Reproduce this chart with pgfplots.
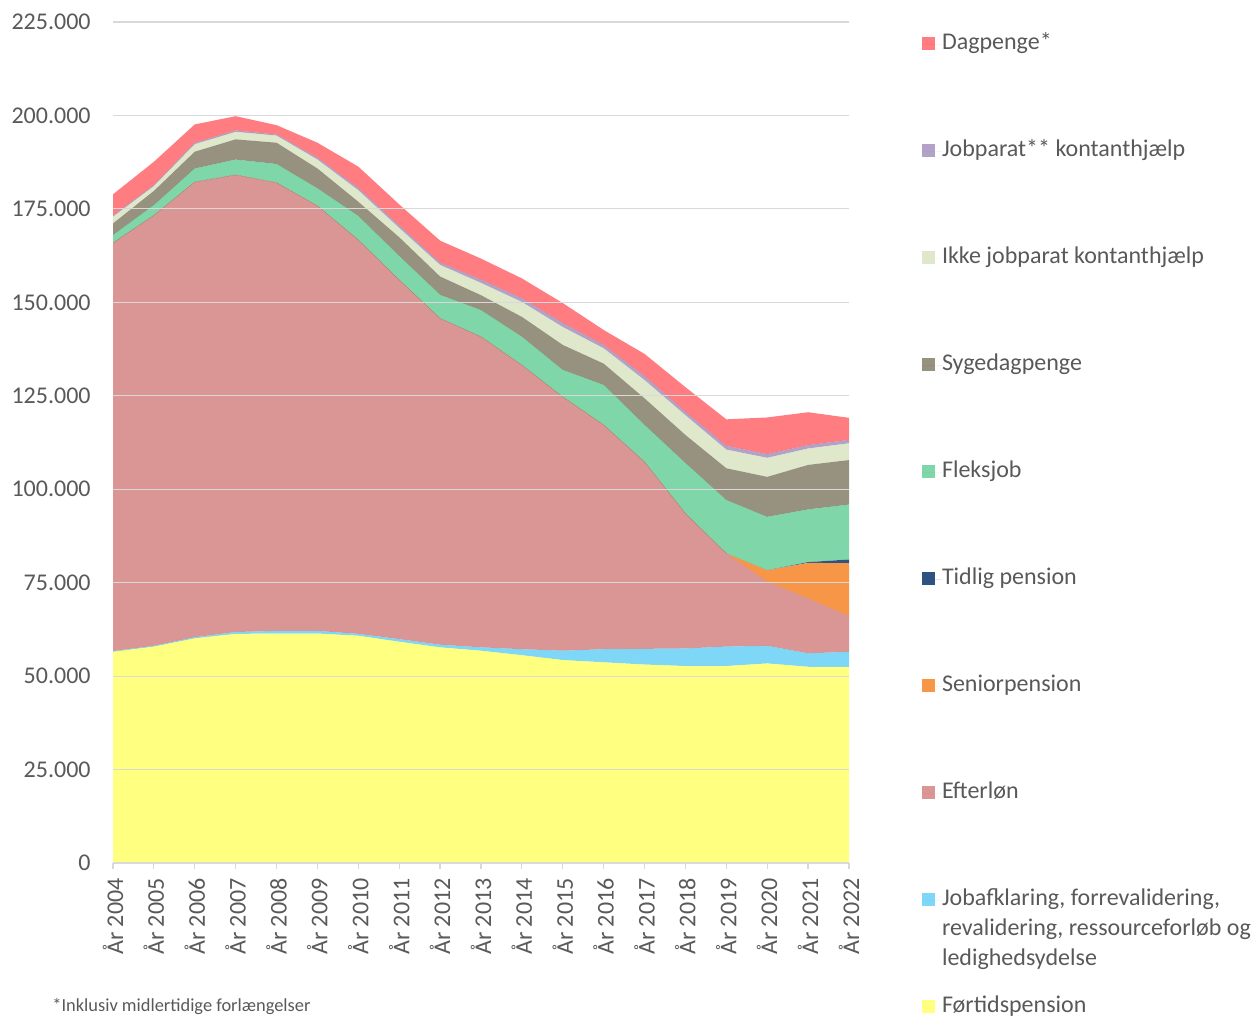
\documentclass[border=0pt]{standalone}
\usepackage{pgfplots}
\pgfplotsset{compat=1.18}
\usepackage{pgfplotstable}
\usepackage{fontspec}
\setmainfont{Carlito}
\definecolor{txt}{HTML}{595959}
\definecolor{gridc}{HTML}{D9D9D9}
\definecolor{cDag}{HTML}{FF252B}
\definecolor{cJob}{HTML}{8064A2}
\definecolor{cIkke}{HTML}{CAD9A9}
\definecolor{cSyg}{HTML}{52482A}
\definecolor{cFleks}{HTML}{2ABB6E}
\definecolor{cTidl}{HTML}{2F5283}
\definecolor{cSen}{HTML}{F79646}
\definecolor{cEft}{HTML}{C0504D}
\definecolor{cJaf}{HTML}{2ABCF2}
\definecolor{cFoer}{HTML}{FFFF2B}

\pgfplotstableread{
year F J E S T Fl Sy I P D
2004 56500 200 109200 0 0 2100 3100 1800 300 5700
2005 57900 200 115200 0 0 2700 3800 1300 300 6200
2006 60100 300 121800 0 0 3600 4500 2000 400 4900
2007 61300 500 122300 0 0 4100 5400 2000 400 3800
2008 61400 700 119900 0 0 5000 5700 1900 300 2500
2009 61400 700 113700 0 0 4700 5300 2400 500 4000
2010 60800 500 105400 0 0 6400 3800 3100 600 5700
2011 59200 700 96100 0 0 6400 5000 2500 700 5600
2012 57700 700 87300 0 0 6300 4900 3100 600 5900
2013 56800 900 83100 0 0 7100 4000 3300 900 5600
2014 55600 1600 76000 0 0 7600 5300 4000 1000 5300
2015 54300 2500 67900 0 0 7200 6700 4800 1100 5300
2016 53700 3500 60000 0 0 10700 5700 4100 900 4000
2017 53100 4200 50000 0 0 9900 7100 4900 1100 5900
2018 52700 4700 36100 0 0 13500 7500 5300 900 6600
2019 52700 5200 24900 0 0 14300 8500 5000 1000 7100
2020 53400 4700 17200 3000 0 14300 10700 5100 1000 9800
2021 52500 3600 14700 9500 200 14100 11900 4400 900 8800
2022 52500 4000 9600 14100 1000 14700 11900 4500 900 5900
}\data

\begin{document}
\begin{tikzpicture}
\path[use as bounding box] (0,0) rectangle (628pt,509pt);
\begin{axis}[
  at={(56.5pt,77.5pt)}, anchor=south west,
  scale only axis, width=368pt, height=420.5pt,
  xmin=2004, xmax=2022, ymin=0, ymax=225000,
  enlargelimits=false,
  stack plots=y, area style,
  axis x line*=bottom, axis y line*=left,
  axis line style={-},
  x axis line style={draw=gridc, line width=0.6pt},
  y axis line style={draw=none},
  xtick={2004,...,2022},
  xticklabels={År 2004,År 2005,År 2006,År 2007,År 2008,År 2009,År 2010,År 2011,År 2012,År 2013,År 2014,År 2015,År 2016,År 2017,År 2018,År 2019,År 2020,År 2021,År 2022},
  ytick={0,25000,...,225000},
  scaled y ticks=false,
  /pgf/number format/fixed,
  /pgf/number format/1000 sep={.},
  /pgf/number format/assume math mode=true,
  tick align=outside,
  major tick length=3pt,
  xtick style={draw=gridc, line width=0.6pt},
  ytick style={draw=none},
  ymajorgrids,
  grid style={draw=gridc, line width=0.6pt},
  every tick label/.append style={font=\fontsize{12}{14}\selectfont, text=txt},
  xticklabel style={rotate=90, anchor=east, inner xsep=4.5pt, inner ysep=0pt},
  yticklabel style={anchor=east, inner xsep=8pt, inner ysep=0pt},
  reverse legend,
  legend cell align=left,
  legend image code/.code={\fill[#1] (0pt,-2.5pt) rectangle (6.5pt,4pt); \path (0pt,0pt) -- (10pt,0pt);},
  legend style={at={(1.0992,0.9834)}, anchor=north west, draw=none, fill=none,
    inner sep=0pt, outer sep=0pt, row sep=44.5pt, column sep=0pt,
    nodes={inner sep=0pt, text height=7pt, text depth=2pt, text=txt, font=\fontsize{12}{15}\selectfont}},
]
\addplot[draw=none, fill=cFoer, fill opacity=0.6] table[x=year,y=F]{\data} \closedcycle;
\addlegendentry{Førtidspension}
\addplot[draw=none, fill=cJaf, fill opacity=0.6] table[x=year,y=J]{\data} \closedcycle;
\addlegendentry{\begin{tabular}[t]{@{}l@{}}Jobafklaring, forrevalidering,\\revalidering, ressourceforløb og\\ledighedsydelse\end{tabular}}
\addplot[draw=none, fill=cEft, fill opacity=0.6] table[x=year,y=E]{\data} \closedcycle;
\addlegendentry{Efterløn}
\addplot[draw=none, fill=cSen] table[x=year,y=S]{\data} \closedcycle;
\addlegendentry{Seniorpension}
\addplot[draw=none, fill=cTidl] table[x=year,y=T]{\data} \closedcycle;
\addlegendentry{Tidlig pension}
\addplot[draw=none, fill=cFleks, fill opacity=0.6] table[x=year,y=Fl]{\data} \closedcycle;
\addlegendentry{Fleksjob}
\addplot[draw=none, fill=cSyg, fill opacity=0.6] table[x=year,y=Sy]{\data} \closedcycle;
\addlegendentry{Sygedagpenge}
\addplot[draw=none, fill=cIkke, fill opacity=0.6] table[x=year,y=I]{\data} \closedcycle;
\addlegendentry{Ikke jobparat kontanthjælp}
\addplot[draw=none, fill=cJob, fill opacity=0.6] table[x=year,y=P]{\data} \closedcycle;
\addlegendentry{Jobparat** kontanthjælp}
\addplot[draw=none, fill=cDag, fill opacity=0.6] table[x=year,y=D]{\data} \closedcycle;
\addlegendentry{Dagpenge*}
\end{axis}
\node[anchor=base west, inner sep=0pt, text=txt, font=\fontsize{9.2}{11}\selectfont] at (26pt,3.5pt) {*Inklusiv midlertidige forlængelser};
\end{tikzpicture}
\end{document}
